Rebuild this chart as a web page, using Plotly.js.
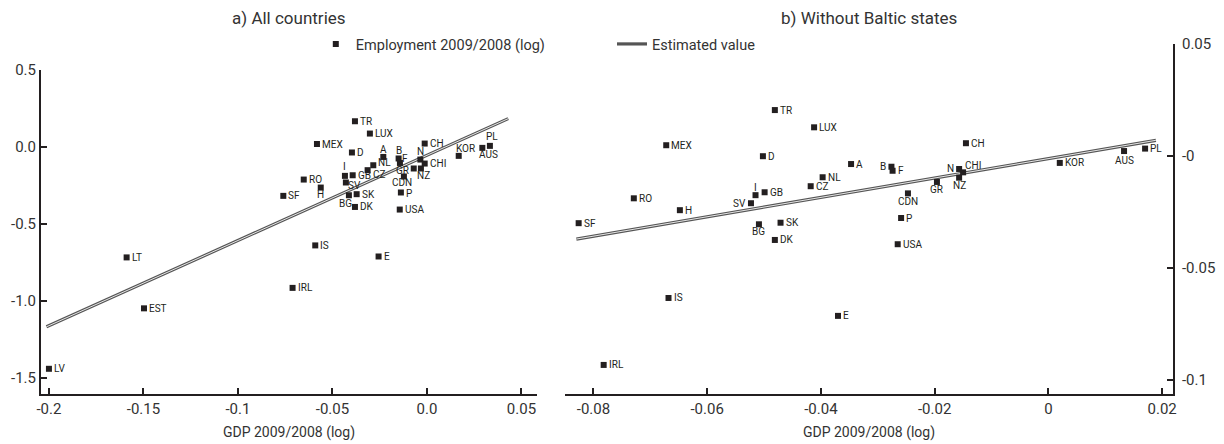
<!DOCTYPE html>
<html>
<head>
<meta charset="utf-8">
<script src="https://cdn.plot.ly/plotly-3.0.1.min.js"></script>
<style>
  html, body { margin: 0; padding: 0; background: #fff; }
  #chart { width: 1224px; height: 444px; }
</style>
</head>
<body>
<div id="chart"></div>
<script>
// Panel a) all countries
const countriesAll = ['LV','EST','LT','IRL','IS','SF','RO','H','MEX','BG','SV','I','GB','D','DK','TR','SK','CZ','LUX','NL','A','E','B','F','USA','P','CDN','GR','N','NZ','CHI','CH','KOR','AUS','PL'];
const gdpAll = [-0.2000,-0.1497,-0.1589,-0.0711,-0.0591,-0.0760,-0.0652,-0.0562,-0.0582,-0.0413,-0.0429,-0.0434,-0.0393,-0.0397,-0.0381,-0.0381,-0.0372,-0.0314,-0.0302,-0.0284,-0.0231,-0.0256,-0.0150,-0.0143,-0.0144,-0.0138,-0.0122,-0.0070,-0.0035,-0.0032,-0.0012,-0.0012,0.0168,0.0293,0.0333];
const empAll = [-1.442,-1.049,-0.718,-0.916,-0.640,-0.318,-0.212,-0.264,0.019,-0.314,-0.231,-0.188,-0.184,-0.036,-0.390,0.167,-0.307,-0.151,0.087,-0.119,-0.065,-0.712,-0.075,-0.104,-0.407,-0.296,-0.192,-0.140,-0.082,-0.140,-0.108,0.022,-0.058,-0.006,0.007];
const fitAllX = [-0.2013, 0.0430];
const fitAllY = [-1.169, 0.184];

// Panel b) without the Baltic states
const countriesNB = ['IRL','IS','SF','RO','H','MEX','BG','SV','I','GB','D','DK','TR','SK','CZ','LUX','NL','A','E','B','F','USA','P','CDN','GR','N','NZ','CHI','CH','KOR','AUS','PL'];
const gdpNB = [-0.0782,-0.0668,-0.0826,-0.0729,-0.0648,-0.0672,-0.0509,-0.0523,-0.0515,-0.0499,-0.0502,-0.0481,-0.0481,-0.0471,-0.0418,-0.0412,-0.0397,-0.0347,-0.0370,-0.0276,-0.0274,-0.0265,-0.0259,-0.0247,-0.0196,-0.0157,-0.0157,-0.0150,-0.0145,0.0020,0.0133,0.0170];
const empNB = [-0.0933,-0.0634,-0.0300,-0.0189,-0.0242,0.0048,-0.0305,-0.0211,-0.0175,-0.0162,-0.0001,-0.0375,0.0205,-0.0298,-0.0135,0.0128,-0.0095,-0.0036,-0.0714,-0.0048,-0.0066,-0.0394,-0.0277,-0.0167,-0.0116,-0.0058,-0.0097,-0.0073,0.0057,-0.0031,0.0022,0.0033];
const fitNBX = [-0.0830, 0.0189];
const fitNBY = [-0.0371, 0.0070];

// Tick labels
const xTicksA = [-0.2,-0.15,-0.1,-0.05,0,0.05];
const xTickTextA = ['-0.2','-0.15','-0.1','-0.05','0.0','0.05'];
const yTicksA = [0.5,0,-0.5,-1,-1.5];
const yTickTextA = ['0.5','0.0','-0.5','-1.0','-1.5'];
const xTicksB = [-0.08,-0.06,-0.04,-0.02,0,0.02];
const xTickTextB = ['-0.08','-0.06','-0.04','-0.02','0','0.02'];
const yTicksB = [0.05,0,-0.05,-0.1];
const yTickTextB = ['0.05','-0','-0.05','-0.1'];

// Country label placement relative to its marker (pixels; dy > 0 moves up)
const placeA = {
  A:{ax:'center',dx:0,dy:7}, B:{ax:'center',dx:0,dy:8}, N:{ax:'center',dx:0,dy:8}, I:{ax:'center',dx:0,dy:9},
  KOR:{ax:'left',dx:-4,dy:7}, PL:{ax:'center',dx:2,dy:9}, AUS:{ax:'left',dx:-4,dy:-7},
  H:{ax:'center',dx:0,dy:-7}, BG:{ax:'center',dx:-3,dy:-8}, CDN:{ax:'center',dx:-2,dy:-6.5}, NZ:{ax:'center',dx:3,dy:-7.5},
  GR:{ax:'right',dx:-4,dy:-2}, F:{ax:'left',dx:1,dy:4.5}, SV:{ax:'left',dx:1,dy:-3},
  NL:{ax:'left',dx:4,dy:3}, CZ:{ax:'left',dx:4,dy:-4}, P:{ax:'left',dx:4,dy:-1.5}
};
const placeB = {
  I:{ax:'center',dx:0,dy:8}, BG:{ax:'center',dx:0,dy:-7.5}, NZ:{ax:'center',dx:0,dy:-7.5}, GR:{ax:'center',dx:0,dy:-8},
  CDN:{ax:'center',dx:0,dy:-8}, AUS:{ax:'center',dx:0,dy:-9.5},
  SV:{ax:'right',dx:-4,dy:0}, B:{ax:'right',dx:-4,dy:0}, N:{ax:'right',dx:-4,dy:0},
  CHI:{ax:'left',dx:1,dy:6.5}
};

const FONT = 'Roboto, "Liberation Sans", sans-serif';
const INK = '#231f20';
const labelFont = { family: FONT, size: 10, color: INK };

function countryLabels(names, xs, ys, xref, yref, place) {
  return names.map((n, i) => {
    const p = place[n] || { ax: 'left', dx: 4, dy: 0 };
    return { text: n, x: xs[i], y: ys[i], xref: xref, yref: yref, showarrow: false,
      xanchor: p.ax, yanchor: 'middle', xshift: p.dx, yshift: p.dy, font: labelFont, borderpad: 0 };
  });
}

const markerStyle = { symbol: 'square', size: 6, color: INK };

const traces = [
  { x: fitAllX, y: fitAllY, xaxis: 'x', yaxis: 'y', mode: 'lines', name: 'Estimated value',
    line: { color: '#555', width: 3.2 }, legend: 'legend2', showlegend: true, hoverinfo: 'skip' },
  { x: fitAllX, y: fitAllY, xaxis: 'x', yaxis: 'y', mode: 'lines',
    line: { color: '#e6e6e6', width: 1 }, showlegend: false, hoverinfo: 'skip' },
  { x: fitNBX, y: fitNBY, xaxis: 'x2', yaxis: 'y2', mode: 'lines',
    line: { color: '#555', width: 3.2 }, showlegend: false, hoverinfo: 'skip' },
  { x: fitNBX, y: fitNBY, xaxis: 'x2', yaxis: 'y2', mode: 'lines',
    line: { color: '#e6e6e6', width: 1 }, showlegend: false, hoverinfo: 'skip' },
  { x: gdpAll, y: empAll, xaxis: 'x', yaxis: 'y', mode: 'markers',
    name: 'Employment 2009/2008 (log)', marker: markerStyle, cliponaxis: false, showlegend: true, legend: 'legend' },
  { x: gdpNB, y: empNB, xaxis: 'x2', yaxis: 'y2', mode: 'markers',
    marker: markerStyle, cliponaxis: false, showlegend: false }
];

const axisCommon = {
  showline: true, linecolor: INK, linewidth: 2,
  ticks: 'inside', ticklen: 6, tickwidth: 2, tickcolor: INK,
  showgrid: false, zeroline: false, automargin: false,
  tickfont: { family: FONT, size: 15, color: '#333' }, fixedrange: true
};

const titleFont = { family: FONT, size: 17, color: '#333' };

const layout = {
  width: 1224, height: 444,
  margin: { l: 0, r: 0, t: 0, b: 0 },
  paper_bgcolor: '#fff', plot_bgcolor: 'rgba(0,0,0,0)',
  font: { family: FONT, color: '#333' },
  xaxis: Object.assign({}, axisCommon, {
    domain: [0.0335, 0.4387], range: [-0.2042, 0.0582], anchor: 'y',
    tickvals: xTicksA, ticktext: xTickTextA,
    title: { text: 'GDP 2009/2008 (log)', font: { family: FONT, size: 14, color: '#333' }, standoff: 10 }
  }),
  yaxis: Object.assign({}, axisCommon, {
    domain: [0.1115, 0.8423], range: [-1.609, 0.5], anchor: 'x',
    tickvals: yTicksA, ticktext: yTickTextA
  }),
  xaxis2: Object.assign({}, axisCommon, {
    domain: [0.4616, 0.9583], range: [-0.0850, 0.0219], anchor: 'y2',
    tickvals: xTicksB, ticktext: xTickTextB,
    title: { text: 'GDP 2009/2008 (log)', font: { family: FONT, size: 14, color: '#333' }, standoff: 10 }
  }),
  yaxis2: Object.assign({}, axisCommon, {
    domain: [0.1115, 0.9009], range: [-0.1065, 0.0500], anchor: 'x2', side: 'right',
    tickvals: yTicksB, ticktext: yTickTextB, ticklabelstandoff: 4
  }),
  legend: {
    x: 0.450, xanchor: 'right', y: 0.9009, yanchor: 'middle',
    bgcolor: 'rgba(0,0,0,0)', font: { family: FONT, size: 14.5, color: '#333' },
    itemwidth: 30, tracegroupgap: 0
  },
  legend2: {
    x: 0.500, xanchor: 'left', y: 0.9009, yanchor: 'middle',
    bgcolor: 'rgba(0,0,0,0)', font: { family: FONT, size: 14.5, color: '#333' },
    itemwidth: 30
  },
  annotations: [
    { text: 'a) All countries', xref: 'paper', yref: 'paper', x: 0.236, y: 0.9595,
      xanchor: 'center', yanchor: 'middle', showarrow: false, font: titleFont },
    { text: 'b) Without Baltic states', xref: 'paper', yref: 'paper', x: 0.710, y: 0.9595,
      xanchor: 'center', yanchor: 'middle', showarrow: false, font: titleFont }
  ].concat(
    countryLabels(countriesAll, gdpAll, empAll, 'x', 'y', placeA),
    countryLabels(countriesNB, gdpNB, empNB, 'x2', 'y2', placeB)
  ),
  showlegend: true
};

Plotly.newPlot('chart', traces, layout, { displayModeBar: false, staticPlot: true });
</script>
</body>
</html>
